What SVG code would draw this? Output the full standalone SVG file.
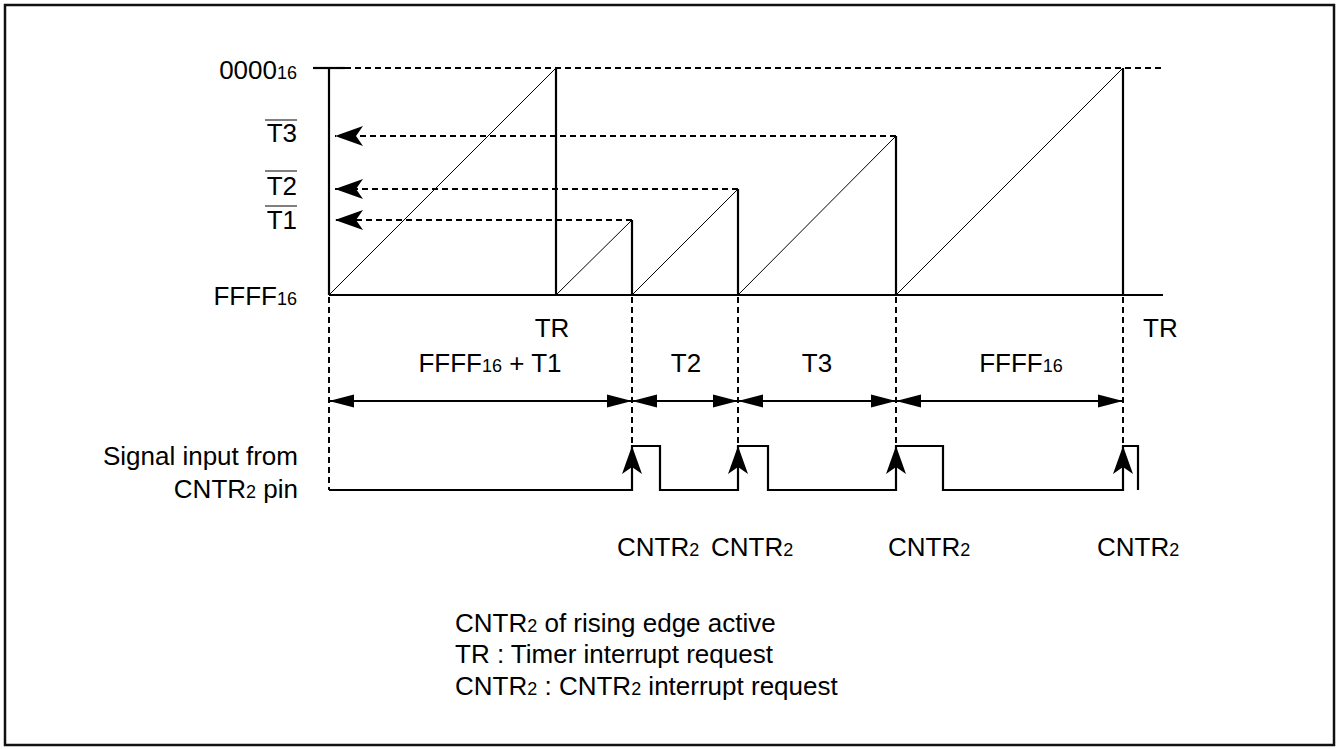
<svg xmlns="http://www.w3.org/2000/svg" width="1337" height="749" viewBox="0 0 1337 749">
<style>
text{font-family:"Liberation Sans",Arial,sans-serif;font-size:26px;fill:#000}
.sub{font-size:18px}
.solid{stroke:#000;stroke-width:2.2;fill:none}
.thin{stroke:#000;stroke-width:1;fill:none}
.dash{stroke:#000;stroke-width:2;stroke-dasharray:6 4;fill:none}
.head{fill:#000;stroke:none}
</style>
<defs>
<marker id="tri" viewBox="0 -7 25 14" refX="25" refY="0" markerWidth="25" markerHeight="14" markerUnits="userSpaceOnUse" orient="auto-start-reverse">
<path d="M0,-6.5 L25,0 L0,6.5 Z" fill="#000"/>
</marker>
<marker id="barb" viewBox="0 -10 28 20" refX="28" refY="0" markerWidth="28" markerHeight="20" markerUnits="userSpaceOnUse" orient="auto">
<path d="M0,-10 L28,0 L0,10 L7,0 Z" fill="#000"/>
</marker>
</defs>
<rect x="5" y="5" width="1329" height="740" fill="#fff" stroke="#111" stroke-width="2.5"/>

<g id="axes">
<line class="solid" x1="329" y1="68" x2="329" y2="295"/>
<line class="solid" x1="313" y1="68" x2="345" y2="68"/>
<line class="solid" x1="329" y1="295" x2="1163" y2="295"/>
</g>

<g id="y-labels">
<text x="297" y="79" text-anchor="end">0000<tspan class="sub">16</tspan></text>
<text x="297" y="142" text-anchor="end">T3</text>
<line class="thin" x1="265" y1="120" x2="297" y2="120" stroke-width="1.5"/>
<text x="297" y="195" text-anchor="end">T2</text>
<line class="thin" x1="265" y1="171" x2="297" y2="171" stroke-width="1.5"/>
<text x="297" y="229" text-anchor="end">T1</text>
<line class="thin" x1="265" y1="206" x2="297" y2="206" stroke-width="1.5"/>
<text x="297" y="305" text-anchor="end">FFFF<tspan class="sub">16</tspan></text>
</g>

<g id="sawtooth">
<line class="thin" x1="329" y1="295" x2="556" y2="68"/>
<line class="solid" x1="556" y1="68" x2="556" y2="295"/>
<line class="thin" x1="556" y1="295" x2="632" y2="220"/>
<line class="solid" x1="632" y1="220" x2="632" y2="295"/>
<line class="thin" x1="632" y1="295" x2="738" y2="189"/>
<line class="solid" x1="738" y1="189" x2="738" y2="295"/>
<line class="thin" x1="738" y1="295" x2="896" y2="136"/>
<line class="solid" x1="896" y1="136" x2="896" y2="295"/>
<line class="thin" x1="896" y1="295" x2="1123" y2="68"/>
<line class="solid" x1="1123" y1="68" x2="1123" y2="295"/>
</g>

<g id="connectors">
<line class="dash" x1="345" y1="68" x2="1161" y2="68"/>
<line class="dash" x1="896" y1="136" x2="335" y2="136" marker-end="url(#barb)"/>
<line class="dash" x1="738" y1="189" x2="335" y2="189" marker-end="url(#barb)"/>
<line class="dash" x1="632" y1="220" x2="335" y2="220" marker-end="url(#barb)"/>
<line class="dash" x1="329" y1="297" x2="329" y2="490"/>
<line class="dash" x1="632" y1="297" x2="632" y2="446"/>
<line class="dash" x1="738" y1="297" x2="738" y2="446"/>
<line class="dash" x1="896" y1="297" x2="896" y2="446"/>
<line class="dash" x1="1123" y1="297" x2="1123" y2="446"/>
<line class="solid" x1="329" y1="401" x2="632" y2="401" marker-start="url(#tri)" marker-end="url(#tri)"/>
<line class="solid" x1="632" y1="401" x2="738" y2="401" marker-start="url(#tri)" marker-end="url(#tri)"/>
<line class="solid" x1="738" y1="401" x2="896" y2="401" marker-start="url(#tri)" marker-end="url(#tri)"/>
<line class="solid" x1="896" y1="401" x2="1123" y2="401" marker-start="url(#tri)" marker-end="url(#tri)"/>
</g>

<g id="time-labels">
<text x="552" y="337" text-anchor="middle">TR</text>
<text x="1143" y="337">TR</text>
<text x="490" y="372" text-anchor="middle">FFFF<tspan class="sub">16</tspan> + T1</text>
<text x="686" y="372" text-anchor="middle">T2</text>
<text x="817" y="372" text-anchor="middle">T3</text>
<text x="1021" y="372" text-anchor="middle">FFFF<tspan class="sub">16</tspan></text>
</g>

<g id="signal">
<text x="298" y="465" text-anchor="end">Signal input from</text>
<text x="298" y="498" text-anchor="end">CNTR<tspan class="sub">2</tspan> pin</text>
<polyline class="solid" points="329,490 632,490 632,446 660,446 660,490 738,490 738,446 768,446 768,490 896,490 896,446 943,446 943,490 1123,490 1123,446 1138,446 1138,490"/>
<path class="head" d="M632,446 L622,474 L632,467 L642,474 Z"/>
<path class="head" d="M738,446 L728,474 L738,467 L748,474 Z"/>
<path class="head" d="M896,446 L886,474 L896,467 L906,474 Z"/>
<path class="head" d="M1123,446 L1113,474 L1123,467 L1133,474 Z"/>
<text x="617" y="556">CNTR<tspan class="sub">2</tspan></text>
<text x="711" y="556">CNTR<tspan class="sub">2</tspan></text>
<text x="888" y="556">CNTR<tspan class="sub">2</tspan></text>
<text x="1097" y="556">CNTR<tspan class="sub">2</tspan></text>
</g>

<g id="legend">
<text x="455" y="632">CNTR<tspan class="sub">2</tspan> of rising edge active</text>
<text x="455" y="663">TR : Timer interrupt request</text>
<text x="455" y="695">CNTR<tspan class="sub">2</tspan> : CNTR<tspan class="sub">2</tspan> interrupt request</text>
</g>
</svg>
